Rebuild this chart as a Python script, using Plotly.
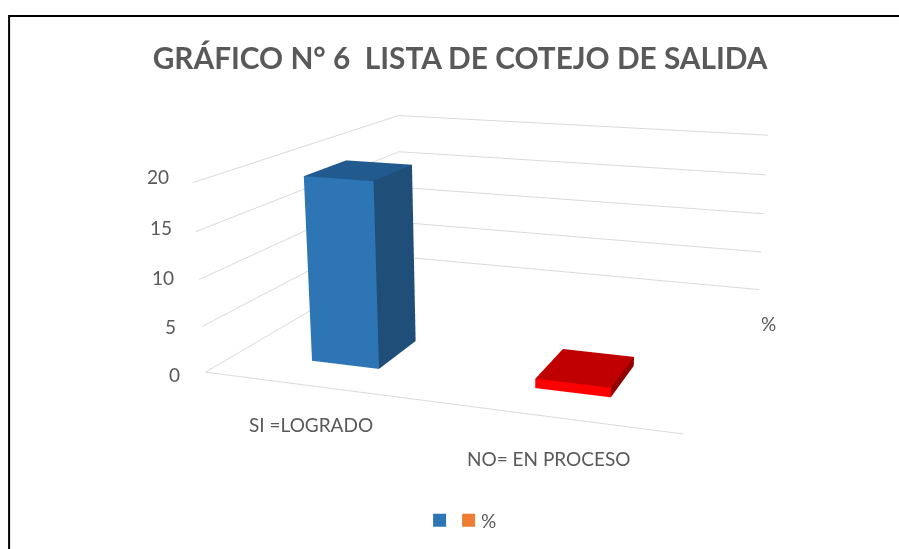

import plotly.graph_objects as go

title = "GRÁFICO N° 6\u00a0 LISTA DE COTEJO DE SALIDA"
categories = ["SI =LOGRADO", "NO= EN PROCESO"]
values = [20, 1]
z_ticks = [0, 5, 10, 15, 20]
series_name = "%"

# Each bar's faces: front, top, right side
bar_colors = [("#2E75B6", "#215A8E", "#1F4E79"), ("#FF0000", "#C00000", "#8F0000")]
legend_colors = ["#2E75B6", "#ED7D31"]
TEXT = "#595959"
GRID = "#D9D9D9"

# Text positions in window pixels
tick_x = [182, 178, 176, 174, 171]
tick_y = [374, 326, 277, 227, 176]
cat_x = [311, 549]
cat_y = [424, 458]

# Plotly's 3D view has a fixed field of view, so the long lens of the original
# needs a scene larger than the window; the window shows the part that matters.
FIG_W, FIG_H = 1047, 1012
LEFT, TOP = -0.1, -234.3

# Scene geometry
X_RANGE = [-0.5060, 1.4966]
BAR_HALF_WIDTH = 0.1564
BAR_DEPTH = (0.1354, 0.3289)
ASPECT = dict(x=2.5065, y=2.4964, z=1)
CAMERA = dict(eye=dict(x=2.1950, y=-6.3976, z=1.6932),
              center=dict(x=0.0364, y=0.0979, z=-0.1938),
              up=dict(x=0.0806, y=-0.2539, z=1))


def X(px):
    return (px - LEFT) / FIG_W


def Y(px):
    return 1 - (px - TOP) / FIG_H


def bar(i, value, colors, name):
    front, top, right = colors
    y0, y1 = BAR_DEPTH
    w = BAR_HALF_WIDTH
    return go.Mesh3d(
        x=[i - w, i + w, i + w, i - w] * 2,
        y=[y0, y0, y1, y1] * 2,
        z=[0] * 4 + [value] * 4,
        i=[0, 0, 4, 4, 1, 1, 0, 0, 3, 3, 2, 2],
        j=[1, 2, 5, 6, 2, 6, 1, 5, 2, 6, 3, 7],
        k=[2, 3, 6, 7, 6, 5, 5, 4, 6, 7, 7, 4],
        facecolor=[top] * 4 + [right] * 2 + [front] * 2 + [right] * 2 + [front] * 2,
        flatshading=True, showlegend=False, hoverinfo="skip", name=name,
        lighting=dict(ambient=1, diffuse=0, specular=0, fresnel=0, roughness=1),
    )


def legend_key(color, legend):
    return go.Scatter3d(x=[None], y=[None], z=[None], mode="markers", name=" ",
                        marker=dict(symbol="square", size=13, color=color),
                        legend=legend, showlegend=True)


fig = go.Figure()
for idx, (cat, val) in enumerate(zip(categories, values)):
    fig.add_trace(bar(idx, val, bar_colors[idx], cat))
fig.add_trace(legend_key(legend_colors[0], "legend"))
fig.add_trace(legend_key(legend_colors[1], "legend2"))

off = dict(showgrid=False, zeroline=False, showticklabels=False, ticks="", title="",
           showbackground=False, showspikes=False)
font = dict(family="Lato", size=19, color=TEXT)
base = dict(xref="paper", yref="paper", showarrow=False, font=font, yanchor="middle")
annotations = [dict(base, x=X(x), y=Y(y), xanchor="right", text=str(v))
               for v, x, y in zip(z_ticks, tick_x, tick_y)]
annotations += [dict(base, x=X(x), y=Y(y), xanchor="center", text=t)
                for t, x, y in zip(categories, cat_x, cat_y)]
annotations += [dict(base, x=X(488.5), y=Y(520), xanchor="center", text=series_name),
                dict(base, x=X(768), y=Y(323), xanchor="center", text=series_name)]

legend_base = dict(y=Y(520), xanchor="left", yanchor="middle", orientation="h",
                   bgcolor="rgba(0,0,0,0)")

fig.update_layout(
    margin=dict(l=0, r=0, t=0, b=0), width=FIG_W, height=FIG_H, paper_bgcolor="white",
    title=dict(text=title, x=X(460), y=Y(58), xanchor="center", yanchor="middle",
               font=dict(family="Lato", size=29.8, weight=700, color=TEXT)),
    scene=dict(
        domain=dict(x=[0, 1], y=[0, 1]), aspectmode="manual", aspectratio=ASPECT, camera=CAMERA,
        xaxis=dict(off, range=X_RANGE, showline=True, linecolor=GRID, linewidth=2),
        yaxis=dict(off, range=[0, 1], showline=False),
        zaxis=dict(off, range=[0, 20], tickvals=z_ticks, showgrid=True, gridcolor=GRID, gridwidth=2),
    ),
    legend=dict(legend_base, x=X(419.5)),
    legend2=dict(legend_base, x=X(448.5)),
    shapes=[dict(type="path", xref="paper", yref="paper",
                 path=f"M {X(9)} {Y(549)} L {X(9)} {Y(15.8)} L {X(899)} {Y(15.8)}",
                 line=dict(color="black", width=2))],
    annotations=annotations,
)

post = ("var g=document.getElementById('{plot_id}');"
        "document.documentElement.style.overflow='hidden';"
        "document.body.style.overflow='hidden';document.body.style.margin='0';"
        f"g.style.position='fixed';g.style.left='{LEFT}px';g.style.top='{TOP}px';")
fig.write_html("out.html", post_script=post)
